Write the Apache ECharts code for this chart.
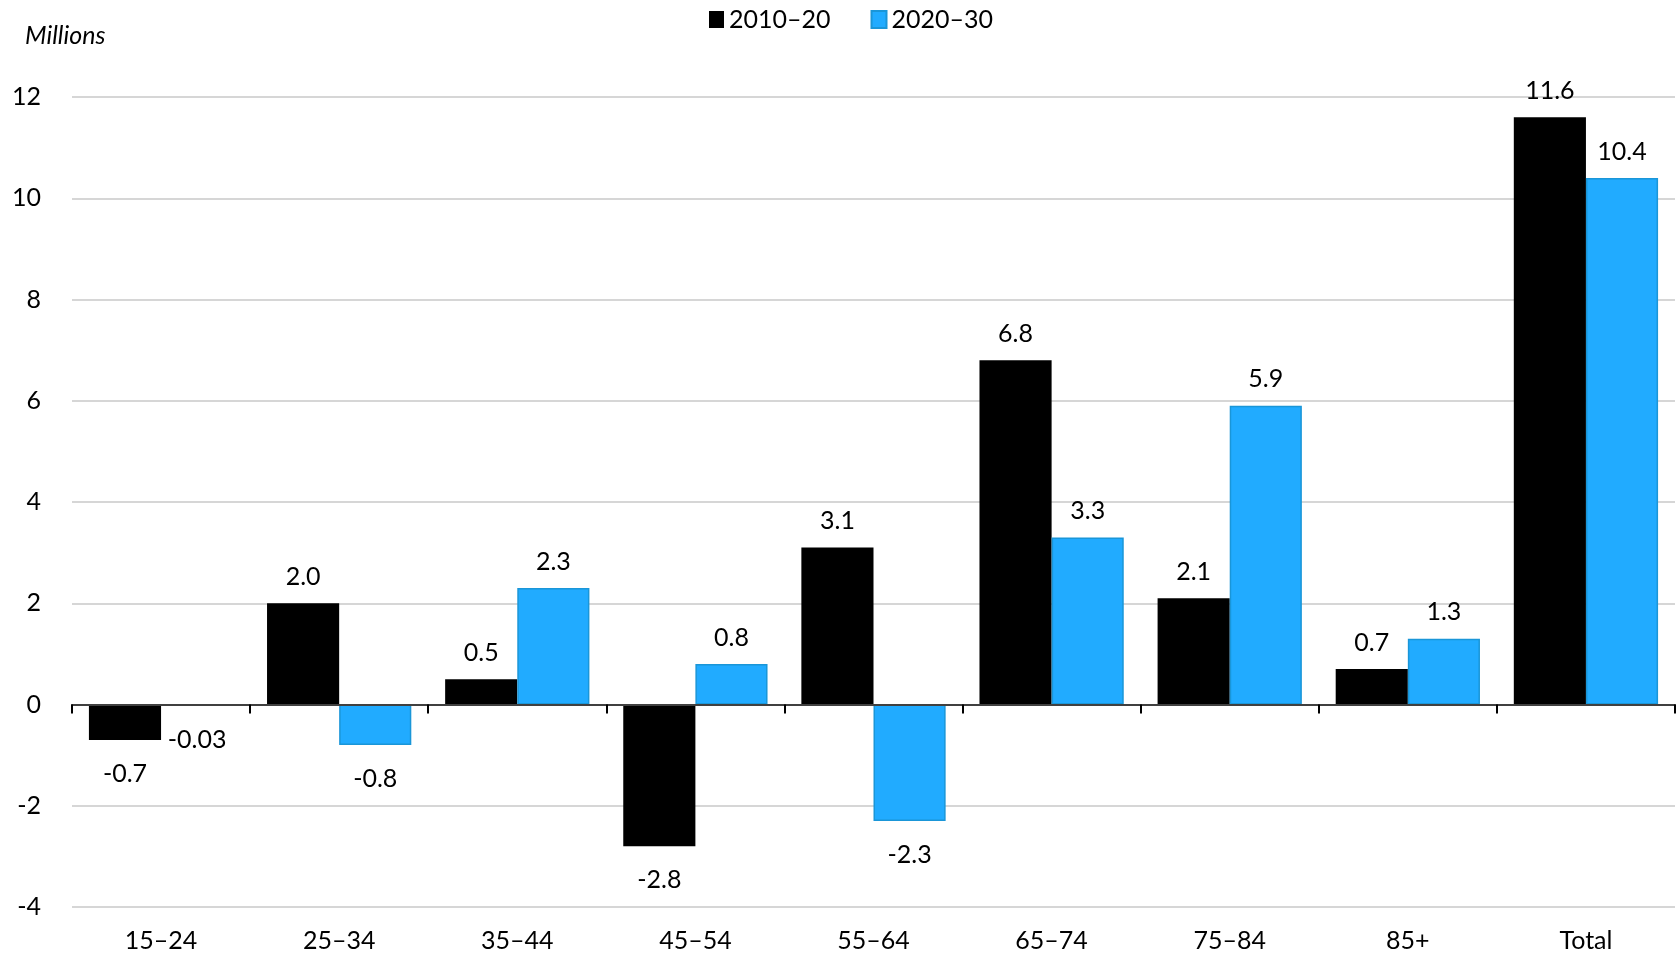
<!DOCTYPE html>
<html>
<head>
<meta charset="utf-8">
<title>Population change by age group</title>
<script src="https://cdn.jsdelivr.net/npm/echarts@6/dist/echarts.min.js"></script>
<style>
  html, body { margin: 0; padding: 0; background: #ffffff; }
  #chart { width: 1677px; height: 958px; }
</style>
</head>
<body>
<div id="chart"></div>
<script>
// Age groups on the category axis
const categories = ['15–24', '25–34', '35–44', '45–54', '55–64', '65–74', '75–84', '85+', 'Total'];

// Change in population, millions
const change2010to20 = [-0.7, 2.0, 0.5, -2.8, 3.1, 6.8, 2.1, 0.7, 11.6];
const change2020to30 = [-0.03, -0.8, 2.3, 0.8, -2.3, 3.3, 5.9, 1.3, 10.4];

// Value axis ticks
const yMin = -4;
const yMax = 12;
const yStep = 2;

const FONT = 'Lato, "Open Sans", sans-serif';

function fmt(v) {
  return Math.abs(v) < 0.1 ? v.toFixed(2) : v.toFixed(1);
}

// Labels sit a little further from the bar end when the bar hangs below zero
function barItems(values) {
  return values.map(v => ({ value: v, label: { distance: v < 0 ? 21 : 14 } }));
}

const labelStyle = {
  show: true,
  position: 'outside',
  color: '#000',
  fontFamily: FONT,
  fontSize: 25,
  formatter: p => fmt(p.value)
};

const chart = echarts.init(document.getElementById('chart'), null, { renderer: 'canvas' });

chart.setOption({
  animation: false,
  backgroundColor: '#ffffff',
  textStyle: { fontFamily: FONT },
  title: {
    text: 'Millions',
    left: 20,
    top: 18,
    textStyle: { fontFamily: FONT, fontSize: 25, fontStyle: 'italic', fontWeight: 'normal', color: '#000' }
  },
  legend: {
    left: 704,
    top: 2,
    icon: 'rect',
    itemWidth: 15,
    itemHeight: 17,
    itemGap: 40,
    textStyle: { fontFamily: FONT, fontSize: 25, color: '#000' },
    data: ['2010–20', '2020–30']
  },
  grid: { left: 72, right: 2, top: 97, bottom: 51, containLabel: false },
  xAxis: [
    {
      type: 'category',
      data: categories,
      position: 'bottom',
      axisLine: { show: true, onZero: true, lineStyle: { color: '#404040', width: 2 } },
      axisTick: { show: true, length: 9, alignWithLabel: false, lineStyle: { color: '#000', width: 2 } },
      axisLabel: { show: false },
      splitLine: { show: false },
      z: 5
    },
    {
      type: 'category',
      data: categories,
      position: 'bottom',
      axisLine: { show: false, onZero: false },
      axisTick: { show: false },
      axisLabel: { show: true, margin: 21, color: '#000', fontFamily: FONT, fontSize: 25 },
      splitLine: { show: false }
    }
  ],
  yAxis: {
    type: 'value',
    min: yMin,
    max: yMax,
    interval: yStep,
    axisLine: { show: false },
    axisTick: { show: false },
    axisLabel: { margin: 31, color: '#000', fontFamily: FONT, fontSize: 25 },
    splitLine: { show: true, lineStyle: { color: '#d6d6d6', width: 2 } }
  },
  series: [
    {
      name: '2010–20',
      type: 'bar',
      xAxisIndex: 0,
      data: barItems(change2010to20),
      barGap: '0%',
      barCategoryGap: '19%',
      itemStyle: { color: '#000000' },
      label: labelStyle
    },
    {
      name: '2020–30',
      type: 'bar',
      xAxisIndex: 0,
      data: barItems(change2020to30),
      barGap: '0%',
      barCategoryGap: '19%',
      itemStyle: { color: '#21abff', borderColor: '#1a96d8', borderWidth: 1.5 },
      label: labelStyle
    }
  ]
});
</script>
</body>
</html>
